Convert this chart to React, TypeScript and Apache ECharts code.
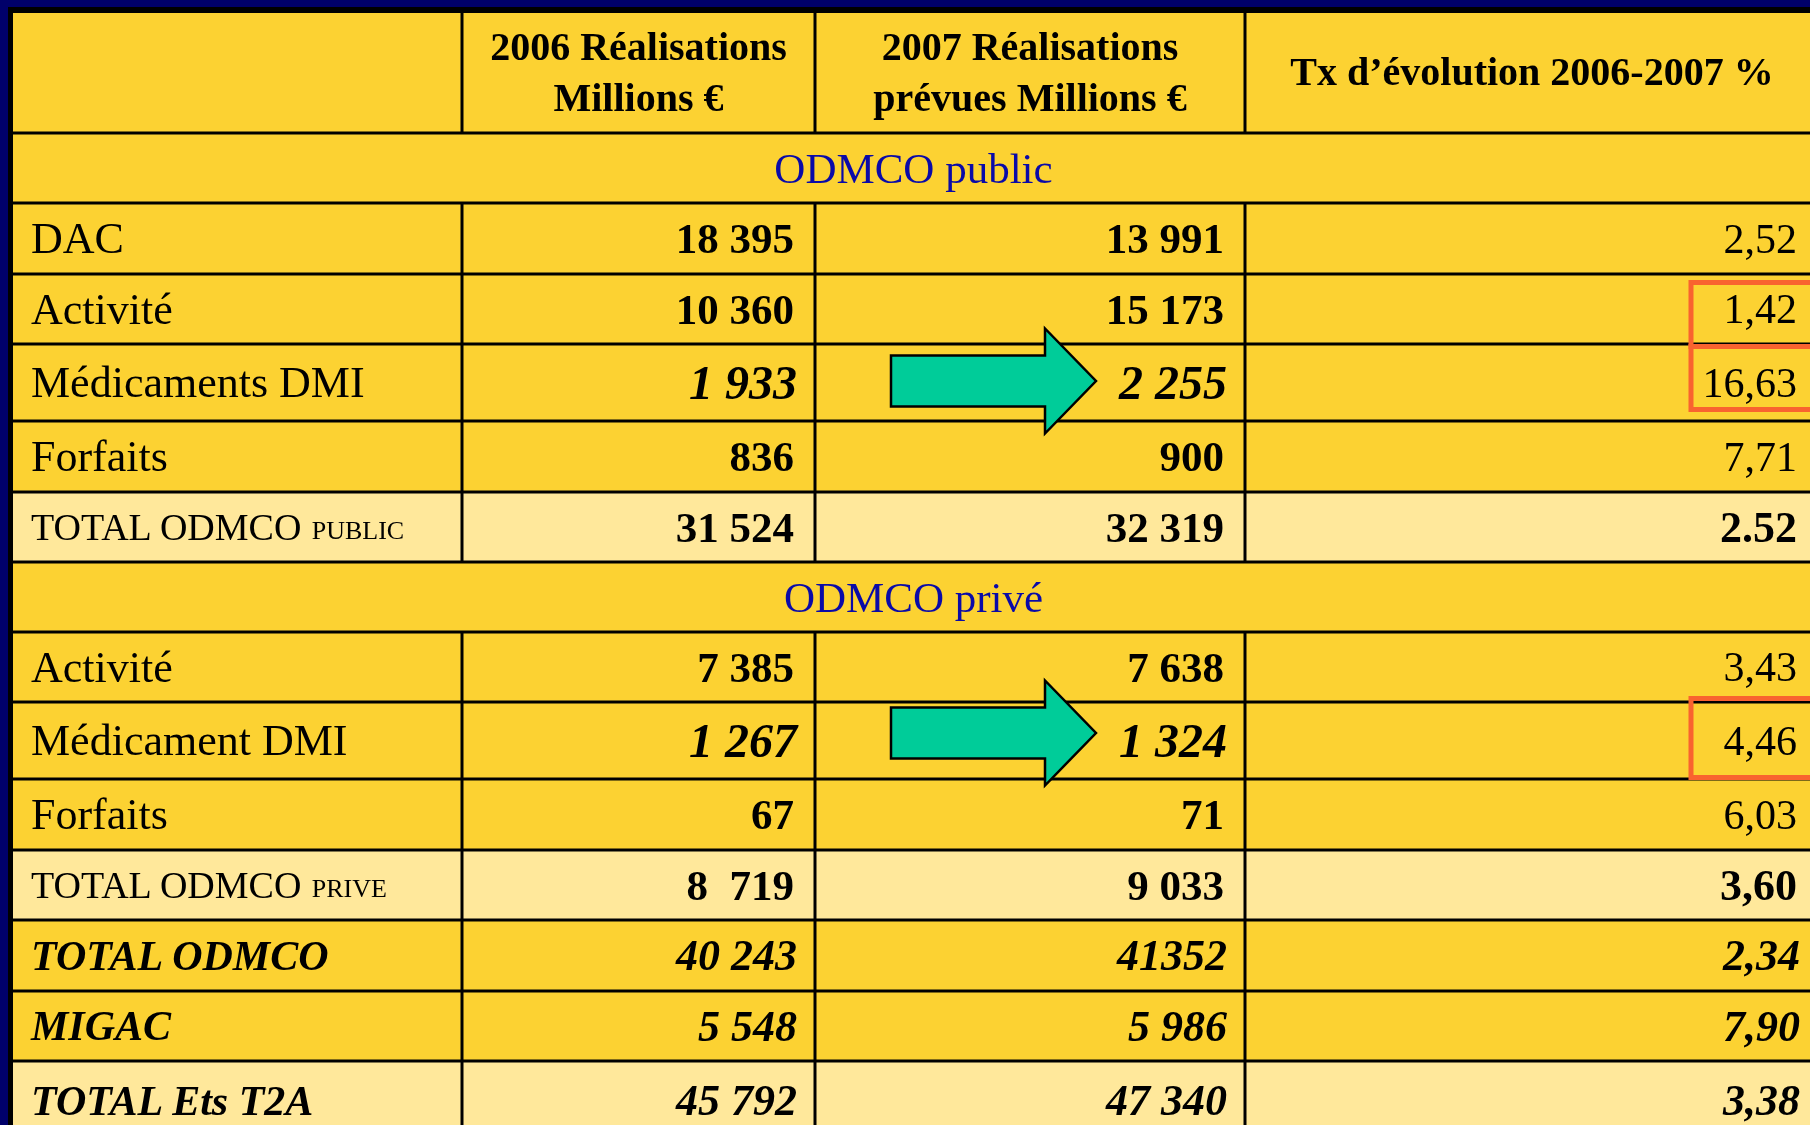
import React, { useEffect, useRef } from "react";
import * as echarts from "echarts";

// ---------- data ----------
const headerCol1 = ["2006 Réalisations", "Millions €"];
const headerCol2 = ["2007 Réalisations", "prévues Millions €"];
const headerCol3 = ["Tx d’évolution 2006-2007 %"];
const sectionTitles = ["ODMCO public", "ODMCO privé"];

const publicLabels = ["DAC", "Activité", "Médicaments DMI", "Forfaits"];
const public2006 = ["18 395", "10 360", "1 933", "836"];
const public2007 = ["13 991", "15 173", "2 255", "900"];
const publicRate = ["2,52", "1,42", "16,63", "7,71"];
const publicTotalLabel = ["TOTAL ODMCO", "PUBLIC"];
const publicTotal = ["31 524", "32 319", "2.52"];

const priveLabels = ["Activité", "Médicament DMI", "Forfaits"];
const prive2006 = ["7 385", "1 267", "67"];
const prive2007 = ["7 638", "1 324", "71"];
const priveRate = ["3,43", "4,46", "6,03"];
const priveTotalLabel = ["TOTAL ODMCO", "PRIVE"];
const priveTotal = ["8  719", "9 033", "3,60"];

const summaryLabels = ["TOTAL ODMCO", "MIGAC", "TOTAL Ets T2A"];
const summary2006 = ["40 243", "5 548", "45 792"];
const summary2007 = ["41352", "5 986", "47 340"];
const summaryRate = ["2,34", "7,90", "3,38"];

// ---------- layout / style ----------
const W = 1810;
const H = 1125;
const FONT = '"Liberation Serif", "Times New Roman", serif';
const NAVY = "#00006A";
const YELLOW = "#FCD232";
const LIGHT = "#FFE89B";
const BLUE = "#0A0AA8";
const RED = "#F9632F";
const GREEN = "#00CC99";
const COLX = [13, 462, 815, 1245, 1830];
const ROWY = [13, 133, 203, 274, 344, 421, 492, 562, 632, 702, 779, 850, 920, 991, 1061, 1140];
const LABEL_X = 31;
const RIGHT_X = [794, 1224, 1797];

type Cell = { size: number; weight?: string; italic?: boolean };

function txt(text: string, x: number, y: number, c: Cell, align: string, fill = "#000", z = 10) {
  return {
    type: "text",
    x,
    y,
    z,
    silent: true,
    style: {
      text,
      fill,
      fontSize: c.size,
      fontFamily: FONT,
      fontWeight: c.weight || "normal",
      fontStyle: c.italic ? "italic" : "normal",
      align,
      verticalAlign: "middle",
    },
  };
}

export default function App() {
  const ref = useRef<HTMLDivElement>(null);

  useEffect(() => {
    if (!ref.current) return;
    const chart = echarts.init(ref.current, null, { renderer: "svg" });

    const ctx = document.createElement("canvas").getContext("2d")!;
    const measure = (t: string, size: number) => {
      ctx.font = `${size}px "Liberation Serif"`;
      return ctx.measureText(t).width;
    };

    const labelReg: Cell = { size: 44 };
    const valBold: Cell = { size: 43, weight: "bold" };
    const valBoldItal: Cell = { size: 48, weight: "bold", italic: true };
    const rateReg: Cell = { size: 42 };
    const rateBold: Cell = { size: 44, weight: "bold" };
    const sumLabel: Cell = { size: 42, weight: "bold", italic: true };
    const sumVal: Cell = { size: 44, weight: "bold", italic: true };

    type Row = {
      kind: "header" | "section" | "data" | "total";
      light?: boolean;
      title?: string;
      label?: string;
      small?: string;
      vals?: string[];
      styles?: Cell[];
      labelStyle?: Cell;
    };

    const rows: Row[] = [];
    rows.push({ kind: "header" });
    rows.push({ kind: "section", title: sectionTitles[0] });
    publicLabels.forEach((l, i) =>
      rows.push({
        kind: "data",
        label: l,
        labelStyle: labelReg,
        vals: [public2006[i], public2007[i], publicRate[i]],
        styles: i === 2 ? [valBoldItal, valBoldItal, rateReg] : [valBold, valBold, rateReg],
      })
    );
    rows.push({
      kind: "total",
      light: true,
      label: publicTotalLabel[0],
      small: publicTotalLabel[1],
      vals: publicTotal,
      styles: [valBold, valBold, rateBold],
    });
    rows.push({ kind: "section", title: sectionTitles[1] });
    priveLabels.forEach((l, i) =>
      rows.push({
        kind: "data",
        label: l,
        labelStyle: labelReg,
        vals: [prive2006[i], prive2007[i], priveRate[i]],
        styles: i === 1 ? [valBoldItal, valBoldItal, rateReg] : [valBold, valBold, rateReg],
      })
    );
    rows.push({
      kind: "total",
      light: true,
      label: priveTotalLabel[0],
      small: priveTotalLabel[1],
      vals: priveTotal,
      styles: [valBold, valBold, rateBold],
    });
    summaryLabels.forEach((l, i) =>
      rows.push({
        kind: "data",
        light: i === 2,
        label: l,
        labelStyle: sumLabel,
        vals: [summary2006[i], summary2007[i], summaryRate[i]],
        styles: [sumVal, sumVal, sumVal],
      })
    );

    const els: any[] = [];
    // frame
    els.push({ type: "rect", z: 0, shape: { x: 0, y: 0, width: W, height: H }, style: { fill: NAVY } });
    els.push({ type: "rect", z: 1, shape: { x: 8, y: 7, width: W, height: H }, style: { fill: "#000" } });

    rows.forEach((r, i) => {
      const y0 = ROWY[i];
      const y1 = ROWY[i + 1];
      const cy = (y0 + y1) / 2;
      els.push({
        type: "rect",
        z: 2,
        shape: { x: COLX[0], y: y0, width: W - COLX[0] + 20, height: y1 - y0 },
        style: { fill: r.light ? LIGHT : YELLOW },
      });
      if (r.kind !== "section") {
        for (let c = 1; c <= 3; c++) {
          els.push({
            type: "line",
            z: 4,
            shape: { x1: COLX[c], y1: y0, x2: COLX[c], y2: y1 },
            style: { stroke: "#000", lineWidth: 3 },
          });
        }
      }
      if (r.kind === "header") {
        const hb: Cell = { size: 40, weight: "bold" };
        const c1 = (COLX[1] + COLX[2]) / 2;
        const c2 = (COLX[2] + COLX[3]) / 2;
        const c3 = 1532;
        els.push(txt(headerCol1[0], c1, 46, hb, "center"));
        els.push(txt(headerCol1[1], c1, 97, hb, "center"));
        els.push(txt(headerCol2[0], c2, 46, hb, "center"));
        els.push(txt(headerCol2[1], c2, 97, hb, "center"));
        els.push(txt(headerCol3[0], c3, 71, hb, "center"));
      } else if (r.kind === "section") {
        els.push(txt(r.title!, (COLX[0] + W) / 2 + 2, cy, { size: 43 }, "center", BLUE));
      } else {
        if (r.kind === "total") {
          const base = cy + 12.5;
          const big = 38;
          const sm = 26;
          els.push(txt(r.label!, LABEL_X, base - 0.3375 * big, { size: big }, "left"));
          const w = measure(r.label!, big);
          els.push(txt(r.small!, LABEL_X + w + 9, base - 0.3375 * sm, { size: sm }, "left"));
        } else {
          els.push(txt(r.label!, LABEL_X, cy, r.labelStyle!, "left"));
        }
        r.vals!.forEach((v, c) => {
          const st = r.styles![c];
          els.push(txt(v, RIGHT_X[c] + (st.italic ? 3 : 0), cy, st, "right"));
        });
      }
    });

    // horizontal grid lines
    for (let i = 1; i < ROWY.length - 1; i++) {
      els.push({
        type: "line",
        z: 4,
        shape: { x1: COLX[0], y1: ROWY[i], x2: W + 20, y2: ROWY[i] },
        style: { stroke: "#000", lineWidth: 3 },
      });
    }

    // arrows (annotations)
    const arrowCenters = [381, 733];
    arrowCenters.forEach((ay) => {
      const x0 = 891, xb = 1045, xt = 1096, sh = 25.5, hh = 52.5;
      els.push({
        type: "polygon",
        z: 20,
        shape: {
          points: [
            [x0, ay - sh],
            [xb, ay - sh],
            [xb, ay - hh],
            [xt, ay],
            [xb, ay + hh],
            [xb, ay + sh],
            [x0, ay + sh],
          ],
        },
        style: { fill: GREEN, stroke: "#000", lineWidth: 2.5, lineJoin: "miter" },
      });
    });

    // red highlight boxes (annotations)
    const boxes = [
      [282.5, 346.5],
      [346.5, 409.5],
      [698.5, 777.5],
    ];
    boxes.forEach(([a, b]) => {
      els.push({
        type: "rect",
        z: 22,
        shape: { x: 1691, y: a, width: 160, height: b - a },
        style: { fill: "transparent", stroke: RED, lineWidth: 5 },
      });
    });

    chart.setOption({
      animation: false,
      graphic: { elements: els },
    });

    return () => chart.dispose();
  }, []);

  return (
    <div
      ref={ref}
      style={{ position: "fixed", left: 0, top: 0, width: W, height: H, overflow: "hidden" }}
    />
  );
}
